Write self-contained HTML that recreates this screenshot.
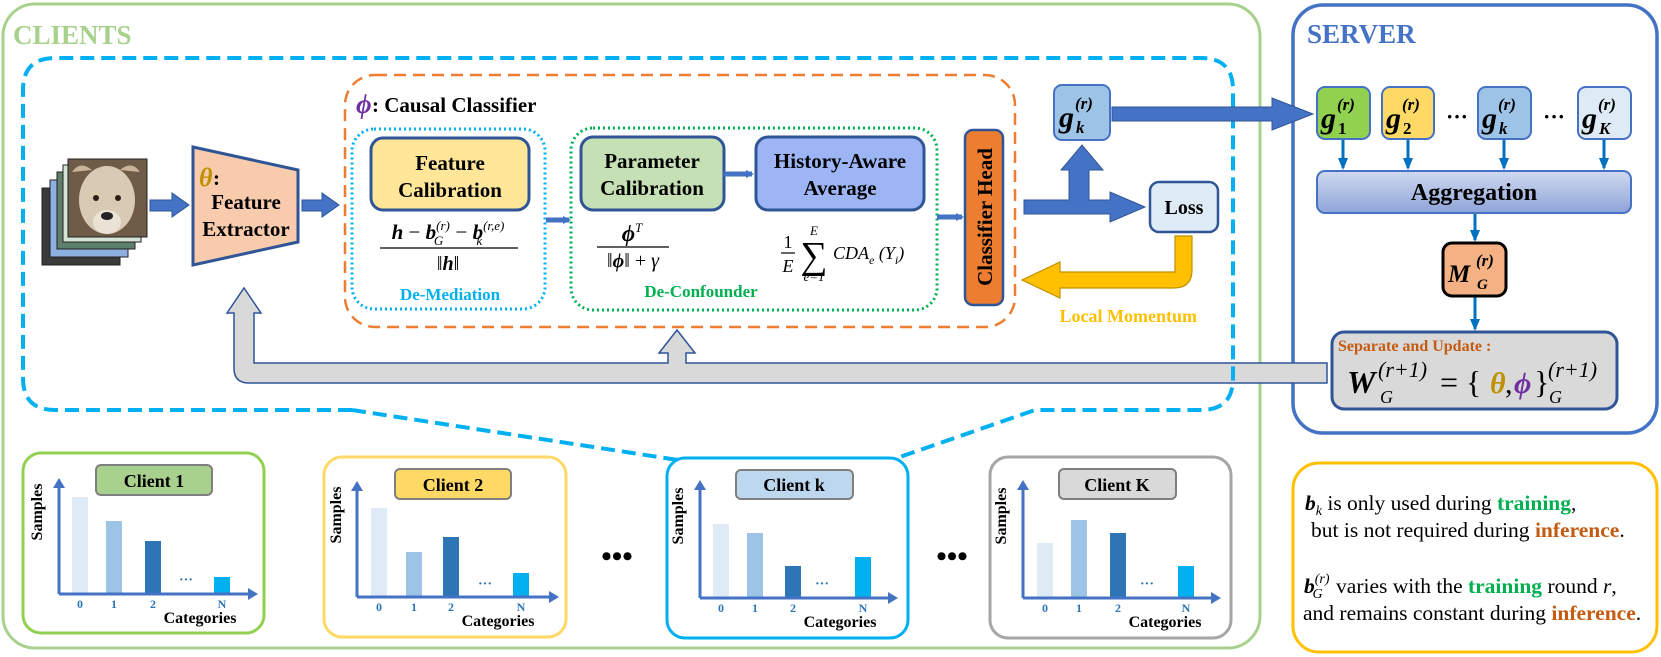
<!DOCTYPE html>
<html><head><meta charset="utf-8"><style>
html,body{margin:0;padding:0;background:#fff;}
svg{display:block;}
text{font-family:"Liberation Serif",serif;}
.b{font-weight:bold;}
.bi{font-weight:bold;font-style:italic;}
.i{font-style:italic;}
</style></head><body>
<svg width="1661" height="657" viewBox="0 0 1661 657" xmlns="http://www.w3.org/2000/svg">
<defs>
<linearGradient id="agg" x1="0" y1="0" x2="0" y2="1"><stop offset="0" stop-color="#d0d9f0"/><stop offset="1" stop-color="#8ea3d8"/></linearGradient>
<marker id="ah" markerWidth="8" markerHeight="8" refX="6" refY="4" orient="auto" markerUnits="userSpaceOnUse"><path d="M0,0 L8,4 L0,8 Z" fill="#4472c4"/></marker>
<marker id="ah2" markerWidth="12" markerHeight="10" refX="10" refY="5" orient="auto" markerUnits="userSpaceOnUse"><path d="M0,0 L12,5 L0,10 Z" fill="#0070c0"/></marker>
</defs>

<rect x="3" y="4" width="1257" height="644" rx="32" fill="none" stroke="#a9d18e" stroke-width="3"/>
<text x="13" y="44" class="b" font-size="27" fill="#a9d18e">CLIENTS</text>

<rect x="1293" y="5" width="364" height="428" rx="30" fill="none" stroke="#4472c4" stroke-width="3.5"/>
<text x="1307" y="43" class="b" font-size="27" fill="#4472c4">SERVER</text>

<path d="M1327,363 L686,363 L686,353 L695,353 L677,330 L659,353 L668,353 L668,363 L254,363 L254,313 L261,313 L244,288 L227,313 L234,313 L234,368 Q234,383 249,383 L1327,383 Z" fill="#d9d9d9" stroke="#2f5597" stroke-width="1.5"/>

<path d="M352,410 L55,410 Q23,410 23,378 L23,90 Q23,58 55,58 L1201,58 Q1233,58 1233,90 L1233,378 Q1233,410 1201,410 L1035,410 L897,458 M352,410 L678,460" fill="none" stroke="#00b0f0" stroke-width="4" stroke-dasharray="14,7"/>

<rect x="345" y="75" width="670" height="252" rx="30" fill="none" stroke="#ed7d31" stroke-width="2.5" stroke-dasharray="12,7"/>
<text x="356" y="113" class="bi" font-size="27" fill="#7030a0">ϕ</text>
<text x="372" y="112" class="b" font-size="21">: Causal Classifier</text>

<rect x="352" y="129" width="193" height="180" rx="22" fill="none" stroke="#00b0f0" stroke-width="3" stroke-dasharray="2,3"/>
<rect x="571" y="128" width="366" height="182" rx="22" fill="none" stroke="#00b050" stroke-width="3" stroke-dasharray="2,3"/>

<rect x="42" y="188" width="78" height="77" fill="#3a3a3a" stroke="#222" stroke-width="1"/>
<rect x="50" y="180" width="78" height="77" fill="#8eb0e0" stroke="#222" stroke-width="1"/>
<rect x="57" y="172" width="78" height="77" fill="#5e7f6a" stroke="#222" stroke-width="1"/>
<rect x="63" y="165" width="78" height="77" fill="#d5e5d5" stroke="#222" stroke-width="1"/>
<rect x="68" y="159" width="79" height="78" fill="#6e5b48" stroke="#222" stroke-width="1"/>
<path d="M72,172 Q80,160 92,170 Z" fill="#c9b49a"/><path d="M140,172 Q132,160 120,170 Z" fill="#c9b49a"/>
<ellipse cx="107" cy="200" rx="28" ry="34" fill="#d9cbb3"/>
<ellipse cx="107" cy="222" rx="14" ry="12" fill="#eae2d4"/>
<circle cx="96" cy="198" r="3" fill="#2a1d12"/><circle cx="118" cy="198" r="3" fill="#2a1d12"/>
<ellipse cx="107" cy="216" rx="6" ry="4" fill="#222"/>

<polygon points="150,200 172,200 172,193 189,205 172,217 172,211 150,211" fill="#4472c4" stroke="#2f5597" stroke-width="1"/>
<polygon points="193,147 298,170 298,242 193,265" fill="#f8cbad" stroke="#2f5597" stroke-width="3"/>
<text x="199" y="186" class="bi" font-size="26" fill="#bf9000">θ</text>
<text x="213" y="185" class="b" font-size="21">:</text>
<text x="246" y="209" class="b" font-size="21" text-anchor="middle">Feature</text>
<text x="246" y="236" class="b" font-size="21" text-anchor="middle">Extractor</text>
<polygon points="302,200 322,200 322,193 339,205 322,217 322,211 302,211" fill="#4472c4" stroke="#2f5597" stroke-width="1"/>

<rect x="371" y="138" width="158" height="72" rx="12" fill="#ffe699" stroke="#2f5597" stroke-width="3"/>
<text x="450" y="170" class="b" font-size="21" text-anchor="middle">Feature</text>
<text x="450" y="197" class="b" font-size="21" text-anchor="middle">Calibration</text>
<text x="448" y="239" font-size="21" text-anchor="middle"><tspan class="bi">h</tspan> − <tspan class="bi">b</tspan><tspan font-size="13" class="i" dy="-9">(r)</tspan><tspan font-size="13" class="i" dx="-16" dy="15">G</tspan><tspan dy="-6" dx="7"> − </tspan><tspan class="bi">b</tspan><tspan font-size="13" class="i" dy="-9">(r,e)</tspan><tspan font-size="13" class="i" dx="-28" dy="15">k</tspan></text>
<line x1="380" y1="248" x2="518" y2="248" stroke="#000" stroke-width="1.3"/>
<text x="448" y="270" font-size="20" text-anchor="middle">‖<tspan class="bi">h</tspan>‖</text>
<text x="450" y="300" class="b" font-size="17" fill="#00b0f0" text-anchor="middle">De-Mediation</text>

<line x1="546" y1="220" x2="569" y2="220" stroke="#4472c4" stroke-width="5" marker-end="url(#ah)"/>

<rect x="581" y="137" width="143" height="73" rx="12" fill="#c5e0b4" stroke="#2f5597" stroke-width="3"/>
<text x="652" y="168" class="b" font-size="21" text-anchor="middle">Parameter</text>
<text x="652" y="195" class="b" font-size="21" text-anchor="middle">Calibration</text>
<line x1="724" y1="174" x2="752" y2="174" stroke="#4472c4" stroke-width="5" marker-end="url(#ah)"/>
<rect x="756" y="137" width="168" height="73" rx="12" fill="#9db5f5" stroke="#2f5597" stroke-width="3"/>
<text x="840" y="168" class="b" font-size="21" text-anchor="middle">History-Aware</text>
<text x="840" y="195" class="b" font-size="21" text-anchor="middle">Average</text>
<text x="632" y="241" font-size="23" text-anchor="middle"><tspan class="bi">ϕ</tspan><tspan font-size="13" class="i" dy="-9">T</tspan></text>
<line x1="597" y1="247" x2="669" y2="247" stroke="#000" stroke-width="1.3"/>
<text x="633" y="267" font-size="20" text-anchor="middle">‖<tspan class="bi">ϕ</tspan>‖ + <tspan class="i">γ</tspan></text>
<text x="788" y="248" font-size="18" text-anchor="middle">1</text>
<line x1="781" y1="253" x2="795" y2="253" stroke="#000" stroke-width="1.2"/>
<text x="788" y="272" font-size="18" class="i" text-anchor="middle">E</text>
<text x="814" y="235" font-size="13" class="i" text-anchor="middle">E</text>
<text x="814" y="268" font-size="38" text-anchor="middle">∑</text>
<text x="814" y="281" font-size="13" class="i" text-anchor="middle">e=1</text>
<text x="833" y="259" font-size="18" class="i">CDA<tspan font-size="12" dy="5">e</tspan><tspan dy="-5"> (Y</tspan><tspan font-size="12" dy="5">i</tspan><tspan dy="-5">)</tspan></text>
<text x="701" y="297" class="b" font-size="17" fill="#00b050" text-anchor="middle">De-Confounder</text>

<line x1="937" y1="217" x2="962" y2="217" stroke="#4472c4" stroke-width="5" marker-end="url(#ah)"/>
<rect x="965" y="130" width="38" height="175" rx="8" fill="#ed7d31" stroke="#2f5597" stroke-width="2.5"/>
<text transform="translate(992,217) rotate(-90)" class="b" font-size="21" text-anchor="middle">Classifier Head</text>

<rect x="1054" y="85" width="56" height="55" rx="8" fill="#9dc3e6" stroke="#4472c4" stroke-width="2"/>
<text x="1059" y="127" class="bi" font-size="30">g</text>
<text x="1075" y="109" class="bi" font-size="17">(r)</text>
<text x="1076" y="133" class="bi" font-size="17">k</text>
<polygon points="1024,200 1069,200 1069,170 1061,170 1082,145 1103,170 1089,170 1089,200 1110,200 1110,192 1145,207 1110,222 1110,214 1024,214" fill="#4472c4" stroke="#2f5597" stroke-width="1"/>
<polygon points="1112,107 1272,107 1272,98 1313,114 1272,130 1272,121 1112,121" fill="#4472c4" stroke="#2f5597" stroke-width="1"/>

<rect x="1150" y="182" width="68" height="50" rx="9" fill="#deebf7" stroke="#2f5597" stroke-width="2.5"/>
<text x="1184" y="214" class="b" font-size="20" text-anchor="middle">Loss</text>
<path d="M1175,236 L1192,236 L1192,270 Q1192,288 1174,288 L1060,288 L1060,298 L1022,280 L1060,262 L1060,272 L1175,272 Z" fill="#ffc000" stroke="#bf9000" stroke-width="1.2"/>
<text x="1197" y="322" class="b" font-size="18" fill="#ffc000" text-anchor="end">Local Momentum</text>

<g>
<rect x="1317" y="87" width="53" height="52" rx="8" fill="#92d050" stroke="#4472c4" stroke-width="2"/>
<text x="1321" y="128" class="bi" font-size="30">g</text><text x="1337" y="110" class="bi" font-size="17">(r)</text><text x="1338" y="134" class="b" font-size="17">1</text>
<rect x="1382" y="87" width="52" height="52" rx="8" fill="#ffd966" stroke="#4472c4" stroke-width="2"/>
<text x="1386" y="128" class="bi" font-size="30">g</text><text x="1402" y="110" class="bi" font-size="17">(r)</text><text x="1403" y="134" class="b" font-size="17">2</text>
<rect x="1478" y="87" width="53" height="52" rx="8" fill="#9dc3e6" stroke="#4472c4" stroke-width="2"/>
<text x="1482" y="128" class="bi" font-size="30">g</text><text x="1498" y="110" class="bi" font-size="17">(r)</text><text x="1499" y="134" class="bi" font-size="17">k</text>
<rect x="1578" y="87" width="53" height="52" rx="8" fill="#deebf7" stroke="#4472c4" stroke-width="2"/>
<text x="1582" y="128" class="bi" font-size="30">g</text><text x="1598" y="110" class="bi" font-size="17">(r)</text><text x="1599" y="134" class="bi" font-size="17">K</text>
<text x="1457" y="124" class="b" font-size="22" text-anchor="middle">···</text>
<text x="1554" y="124" class="b" font-size="22" text-anchor="middle">···</text>
</g>
<g stroke="#0070c0" stroke-width="3">
<line x1="1343" y1="140" x2="1343" y2="168" marker-end="url(#ah2)"/>
<line x1="1408" y1="140" x2="1408" y2="168" marker-end="url(#ah2)"/>
<line x1="1504" y1="140" x2="1504" y2="168" marker-end="url(#ah2)"/>
<line x1="1604" y1="140" x2="1604" y2="168" marker-end="url(#ah2)"/>
<line x1="1475" y1="213" x2="1475" y2="240" marker-end="url(#ah2)"/>
<line x1="1475" y1="297" x2="1475" y2="329" marker-end="url(#ah2)"/>
</g>
<rect x="1317" y="171" width="314" height="42" rx="8" fill="url(#agg)" stroke="#4472c4" stroke-width="2"/>
<text x="1474" y="200" class="b" font-size="24" text-anchor="middle">Aggregation</text>
<rect x="1443" y="243" width="63" height="53" rx="9" fill="#f4b183" stroke="#000" stroke-width="3"/>
<text x="1448" y="282" class="bi" font-size="25">M</text><text x="1476" y="266" class="bi" font-size="17">(r)</text><text x="1477" y="289" class="bi" font-size="15">G</text>

<rect x="1332" y="332" width="285" height="77" rx="12" fill="#d9d9d9" stroke="#2f5597" stroke-width="3"/>
<text x="1338" y="351" class="b" font-size="16" fill="#c55a11">Separate and Update :</text>
<text x="1347" y="393" class="bi" font-size="32">W</text>
<text x="1378" y="377" class="i" font-size="22">(r+1)</text>
<text x="1380" y="403" class="i" font-size="18">G</text>
<text x="1440" y="393" font-size="32">= {</text>
<text x="1490" y="393" class="bi" font-size="30" fill="#bf9000">θ</text>
<text x="1505" y="393" font-size="30">,</text>
<text x="1514" y="393" class="bi" font-size="30" fill="#7030a0">ϕ</text>
<text x="1534" y="393" font-size="32">}</text>
<text x="1548" y="377" class="i" font-size="22">(r+1)</text>
<text x="1549" y="403" class="i" font-size="18">G</text>

<rect x="1293" y="463" width="364" height="189" rx="26" fill="none" stroke="#ffc000" stroke-width="3"/>
<g font-size="21.5">
<text x="1305" y="510"><tspan class="bi">b</tspan><tspan class="i" font-size="14" dy="5">k</tspan><tspan dy="-5"> is only used during </tspan><tspan class="b" fill="#00b050">training</tspan>,</text>
<text x="1311" y="537">but is not required during <tspan class="b" fill="#c55a11">inference</tspan>.</text>
<text x="1304" y="593"><tspan class="bi">b</tspan><tspan class="i" font-size="14" dy="-10">(r)</tspan><tspan class="i" font-size="14" dx="-17" dy="15">G</tspan><tspan dy="-5" dx="8"> varies with the </tspan><tspan class="b" fill="#00b050">training</tspan> round <tspan class="i">r</tspan>,</text>
<text x="1303" y="620">and remains constant during <tspan class="b" fill="#c55a11">inference</tspan>.</text>
</g>

<g transform="translate(23,453)">
<rect x="0" y="0" width="241" height="180" rx="18" fill="none" stroke="#92d050" stroke-width="3"/>
<rect x="73" y="12" width="116" height="30" rx="5" fill="#a9d18e" stroke="#7f7f7f" stroke-width="2"/>
<text x="131" y="34" class="b" font-size="18" text-anchor="middle">Client 1</text>
<rect x="49" y="44" width="16" height="97" fill="#deebf7"/><rect x="83" y="68" width="16" height="73" fill="#9dc3e6"/><rect x="122" y="88" width="16" height="53" fill="#2e75b6"/><rect x="191" y="124" width="16" height="17" fill="#00b0f0"/>
</g>
<g transform="translate(324,457)">
<rect x="0" y="0" width="242" height="180" rx="18" fill="none" stroke="#ffd966" stroke-width="3"/>
<rect x="71" y="12" width="116" height="30" rx="5" fill="#ffd966" stroke="#7f7f7f" stroke-width="2"/>
<text x="129" y="34" class="b" font-size="18" text-anchor="middle">Client 2</text>
<rect x="47" y="51" width="16" height="89" fill="#deebf7"/><rect x="82" y="95" width="16" height="45" fill="#9dc3e6"/><rect x="119" y="80" width="16" height="60" fill="#2e75b6"/><rect x="189" y="116" width="16" height="24" fill="#00b0f0"/>
</g>
<g transform="translate(667,458)">
<rect x="0" y="0" width="241" height="180" rx="18" fill="none" stroke="#00b0f0" stroke-width="3"/>
<rect x="69" y="12" width="117" height="29" rx="5" fill="#bdd7ee" stroke="#7f7f7f" stroke-width="2"/>
<text x="127" y="33" class="b" font-size="18" text-anchor="middle">Client k</text>
<rect x="46" y="66" width="16" height="74" fill="#deebf7"/><rect x="80" y="75" width="16" height="65" fill="#9dc3e6"/><rect x="118" y="108" width="16" height="32" fill="#2e75b6"/><rect x="188" y="99" width="16" height="41" fill="#00b0f0"/>
</g>
<g transform="translate(990,457)">
<rect x="0" y="0" width="241" height="181" rx="18" fill="none" stroke="#a6a6a6" stroke-width="3"/>
<rect x="69" y="12" width="117" height="30" rx="5" fill="#d9d9d9" stroke="#7f7f7f" stroke-width="2"/>
<text x="127" y="34" class="b" font-size="18" text-anchor="middle">Client K</text>
<rect x="47" y="86" width="16" height="55" fill="#deebf7"/><rect x="81" y="63" width="16" height="78" fill="#9dc3e6"/><rect x="120" y="76" width="16" height="65" fill="#2e75b6"/><rect x="188" y="109" width="16" height="32" fill="#00b0f0"/>
</g>
<g stroke="#4472c4" stroke-width="3" fill="none">
<path d="M59,594 L59,486 M59,594 L250,594" />
<path d="M357,597 L357,489 M357,597 L551,597" />
<path d="M700,598 L700,488 M700,598 L890,598" />
<path d="M1023,598 L1023,488 M1023,598 L1213,598" />
</g>
<g fill="#4472c4">
<path d="M53,488 L59,478 L65,488 Z M248,588 L258,594 L248,600 Z"/>
<path d="M351,491 L357,481 L363,491 Z M549,591 L559,597 L549,603 Z"/>
<path d="M694,490 L700,480 L706,490 Z M888,592 L898,598 L888,604 Z"/>
<path d="M1017,490 L1023,480 L1029,490 Z M1211,592 L1221,598 L1211,604 Z"/>
</g>
<g class="b" font-size="12" fill="#2e75b6" text-anchor="middle" font-weight="bold">
<text x="80" y="608">0</text><text x="114" y="608">1</text><text x="153" y="608">2</text><text x="222" y="608">N</text><text x="186" y="584" font-size="14">···</text>
<text x="379" y="611">0</text><text x="414" y="611">1</text><text x="451" y="611">2</text><text x="521" y="611">N</text><text x="485" y="588" font-size="14">···</text>
<text x="721" y="612">0</text><text x="755" y="612">1</text><text x="793" y="612">2</text><text x="863" y="612">N</text><text x="822" y="588" font-size="14">···</text>
<text x="1045" y="612">0</text><text x="1079" y="612">1</text><text x="1118" y="612">2</text><text x="1186" y="612">N</text><text x="1147" y="588" font-size="14">···</text>
</g>
<g class="b" font-size="16" text-anchor="middle" font-weight="bold">
<text x="200" y="623">Categories</text><text x="498" y="626">Categories</text><text x="840" y="627">Categories</text><text x="1165" y="627">Categories</text>
<text transform="translate(42,512) rotate(-90)">Samples</text>
<text transform="translate(341,515) rotate(-90)">Samples</text>
<text transform="translate(683,516) rotate(-90)">Samples</text>
<text transform="translate(1006,516) rotate(-90)">Samples</text>
</g>
<text x="617" y="566" class="b" font-size="30" text-anchor="middle">•••</text>
<text x="952" y="566" class="b" font-size="30" text-anchor="middle">•••</text>
</svg>
</body></html>
